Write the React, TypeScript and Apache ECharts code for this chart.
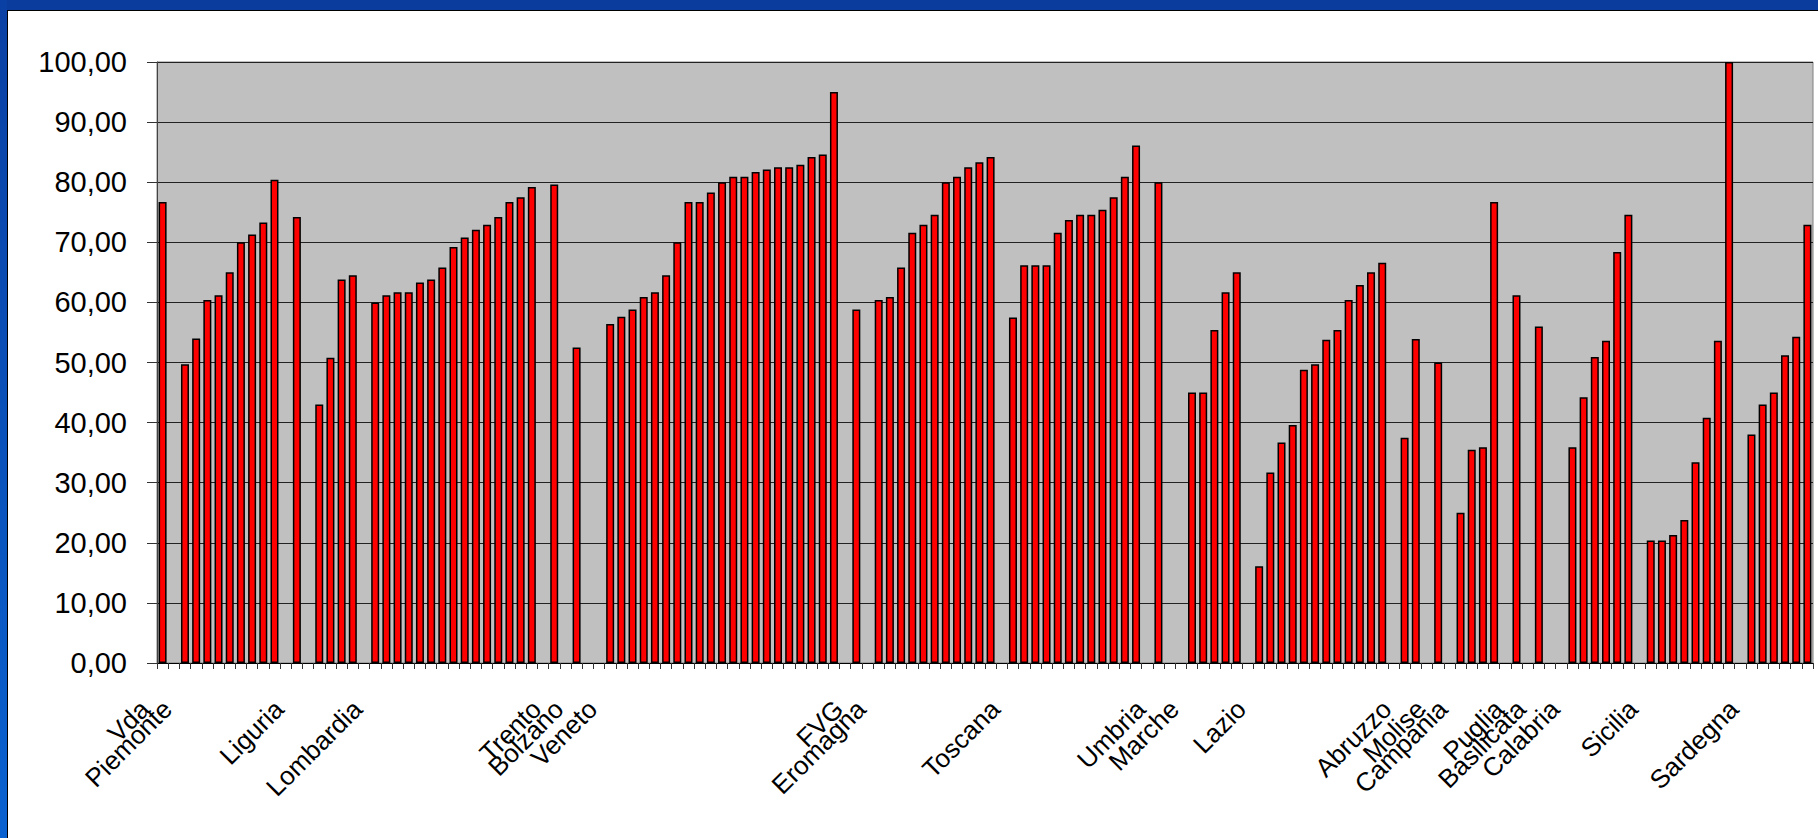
import React, { useEffect, useRef } from "react";
import * as echarts from "echarts";

// Values (null = empty category)
const values: (number | null)[] = [
  76.7, null, 49.7, 54.0, 60.4, 61.2, 65.0, 70.0, 71.3, 73.3,
  80.4, null, 74.2, null, 43.0, 50.8, 63.8, 64.5, null, 60.0,
  61.2, 61.7, 61.7, 63.3, 63.8, 65.8, 69.2, 70.8, 72.1, 72.9,
  74.2, 76.7, 77.5, 79.2, null, 79.6, null, 52.5, null, null,
  56.4, 57.6, 58.8, 60.9, 61.7, 64.5, 70.0, 76.7, 76.7, 78.3,
  80.0, 80.9, 80.9, 81.7, 82.1, 82.5, 82.5, 82.9, 84.2, 84.6,
  95.0, null, 58.8, null, 60.4, 60.9, 65.8, 71.6, 72.9, 74.6,
  80.0, 80.9, 82.5, 83.3, 84.2, null, 57.5, 66.2, 66.2, 66.2,
  71.6, 73.7, 74.6, 74.6, 75.4, 77.5, 80.9, 86.1, null, 80.0,
  null, null, 45.0, 45.0, 55.4, 61.7, 65.0, null, 16.1, 31.7,
  36.7, 39.6, 48.8, 49.7, 53.8, 55.4, 60.4, 62.9, 65.0, 66.6,
  null, 37.5, 53.9, null, 50.0, null, 25.0, 35.5, 35.9, 76.7,
  null, 61.2, null, 56.0, null, null, 35.9, 44.2, 50.9, 53.6,
  68.4, 74.6, null, 20.4, 20.4, 21.3, 23.8, 33.4, 40.8, 53.6,
  100.0, null, 38.0, 43.0, 45.0, 51.2, 54.3, 72.9,
];

// Category labels and the category index at which each one sits
const regionLabels = [
  "Vda", "Piemonte", "Liguria", "Lombardia", "Trento", "Bolzano", "Veneto",
  "FVG", "Eromagna", "Toscana", "Umbria", "Marche", "Lazio", "Abruzzo",
  "Molise", "Campania", "Puglia", "Basilicata", "Calabria", "Sicilia", "Sardegna",
];
const regionIndex = [
  0, 2, 12, 19, 35, 37, 40,
  62, 64, 76, 89, 92, 98, 111,
  114, 116, 121, 123, 126, 133, 142,
];

const yMin = 0;
const yMax = 100;
const yStep = 10;

const FONT = "'Liberation Sans', Arial, Helvetica, sans-serif";

export default function App() {
  const ref = useRef<HTMLDivElement>(null);

  useEffect(() => {
    if (!ref.current) return;
    const chart = echarts.init(ref.current, null, { renderer: "svg" });
    const labelMap: Record<number, string> = {};
    regionIndex.forEach((idx, i) => {
      labelMap[idx] = regionLabels[i];
    });
    const cats = values.map((_, i) => String(i));

    chart.setOption({
      animation: false,
      backgroundColor: "#ffffff",
      graphic: [
        {
          type: "rect",
          left: 0,
          top: 0,
          shape: { x: 0, y: 0, width: 1818, height: 10 },
          style: { fill: "#0A3C9E" },
          z: 100,
        },
        {
          type: "rect",
          left: 0,
          top: 0,
          shape: { x: 0, y: 0, width: 7, height: 838 },
          style: {
            fill: new echarts.graphic.LinearGradient(0, 0, 0, 1, [
              { offset: 0, color: "#0A40A4" },
              { offset: 1, color: "#0A62D0" },
            ]),
          },
          z: 100,
        },
        {
          type: "rect",
          left: 7,
          top: 10,
          shape: { x: 0, y: 0, width: 1811, height: 1 },
          style: { fill: "#000000" },
          z: 100,
        },
        {
          type: "rect",
          left: 7,
          top: 10,
          shape: { x: 0, y: 0, width: 1, height: 828 },
          style: { fill: "#000000" },
          z: 100,
        },
      ],
      grid: {
        left: 157,
        top: 62,
        right: 5,
        bottom: 175,
        show: true,
        backgroundColor: "#C0C0C0",
        borderColor: "#808080",
        borderWidth: 1,
      },
      xAxis: {
        type: "category",
        data: cats,
        boundaryGap: true,
        axisLine: { show: true, lineStyle: { color: "#000", width: 1 } },
        axisTick: {
          show: true,
          interval: 0,
          length: 6,
          lineStyle: { color: "#333" },
        },
        axisLabel: {
          interval: 0,
          rotate: 45,
          margin: 24,
          fontSize: 26,
          fontFamily: FONT,
          color: "#000",
          padding: [0, 25, 0, 0],
          formatter: (_v: string, i: number) => labelMap[i] ?? "",
        },
        splitLine: { show: false },
      },
      yAxis: {
        type: "value",
        min: yMin,
        max: yMax,
        interval: yStep,
        axisLine: { show: true, lineStyle: { color: "#444", width: 1 } },
        axisTick: { show: true, length: 10, lineStyle: { color: "#333" } },
        splitLine: { show: true, lineStyle: { color: "#222", width: 1 } },
        axisLabel: {
          margin: 30,
          fontSize: 29,
          fontFamily: FONT,
          color: "#000",
          formatter: (v: number) => v.toFixed(2).replace(".", ","),
        },
      },
      series: [
        {
          type: "bar",
          data: values,
          barWidth: 8,
          itemStyle: {
            color: "#FF0000",
            borderColor: "#000000",
            borderWidth: 1.5,
          },
        },
      ],
    });

    return () => {
      chart.dispose();
    };
  }, []);

  return (
    <div
      ref={ref}
      style={{ position: "fixed", left: 0, top: 0, width: 1818, height: 838 }}
    />
  );
}
